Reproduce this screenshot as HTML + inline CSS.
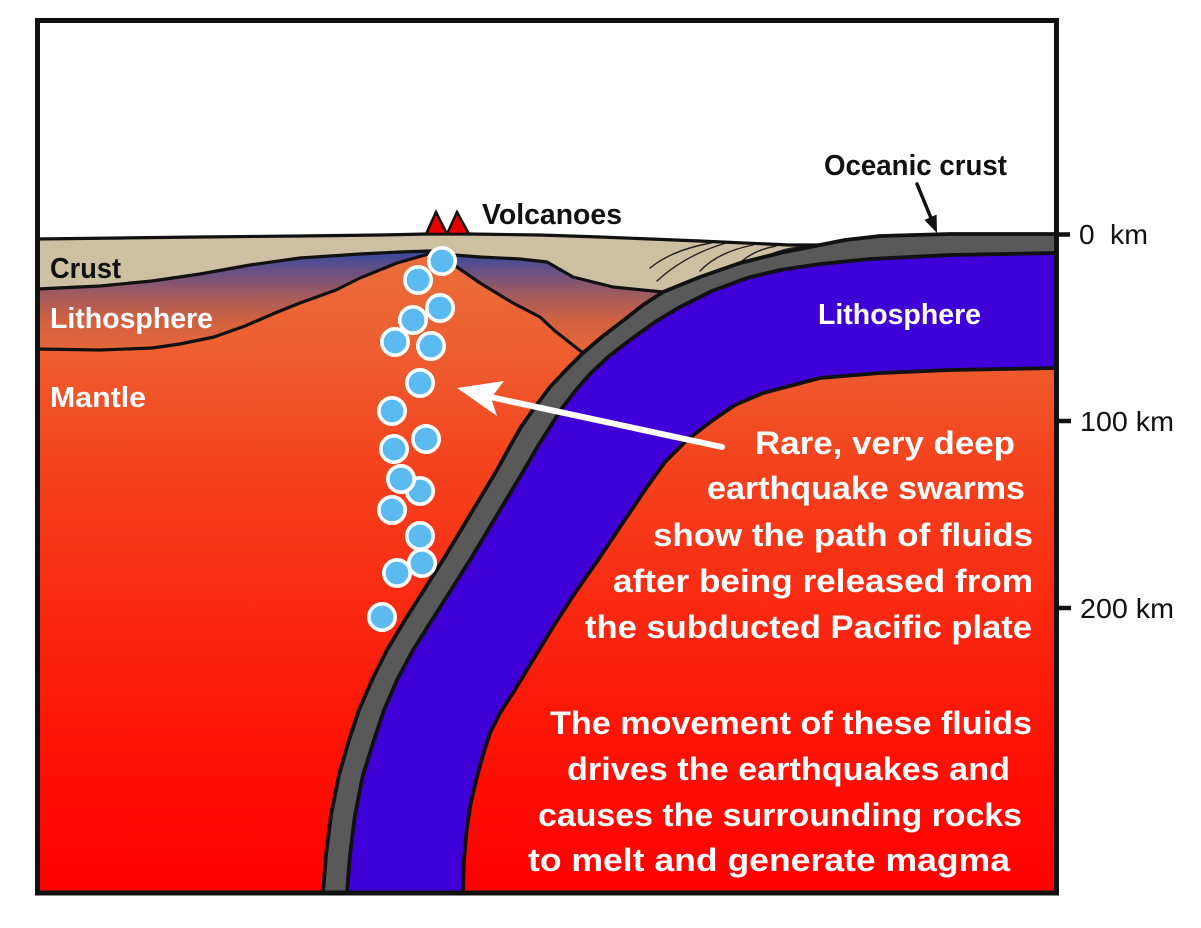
<!DOCTYPE html>
<html>
<head>
<meta charset="utf-8">
<style>
  html,body{margin:0;padding:0;background:#fff;}
  svg{display:block;}
  .b{font-family:"Liberation Sans",sans-serif;font-weight:bold;}
  .r{font-family:"Liberation Sans",sans-serif;font-weight:normal;}
</style>
</head>
<body>
<svg width="1201" height="928" viewBox="0 0 1201 928" xmlns="http://www.w3.org/2000/svg">
  <defs>
    <linearGradient id="mantle" gradientUnits="userSpaceOnUse" x1="0" y1="240" x2="0" y2="893">
      <stop offset="0" stop-color="#e9703c"/>
      <stop offset="0.17" stop-color="#ee5e31"/>
      <stop offset="0.32" stop-color="#f3461f"/>
      <stop offset="0.55" stop-color="#f92a12"/>
      <stop offset="0.78" stop-color="#fd1206"/>
      <stop offset="1" stop-color="#ff0000"/>
    </linearGradient>
    <linearGradient id="litho" gradientUnits="userSpaceOnUse" x1="0" y1="255" x2="0" y2="352">
      <stop offset="0" stop-color="#3f4a9c"/>
      <stop offset="0.37" stop-color="#9a5a64"/>
      <stop offset="0.68" stop-color="#d2613f"/>
      <stop offset="1" stop-color="#e8663a"/>
    </linearGradient>
  </defs>

  <rect x="0" y="0" width="1201" height="928" fill="#fff"/>

  <!-- ground / mantle -->
  <polygon fill="url(#mantle)" points="37,239 120,238 200,237 300,236 380,235 426,234 470,234 540,235 600,237 700,241 790,245 820,245 845,240 880,236 950,234 1056,234 1056,893 37,893"/>

  <!-- overriding lithosphere -->
  <polygon fill="url(#litho)" points="37,289 100,286 152,281 200,274 250,265 300,258 360,254 400,252 430,251 454,255 480,257 520,259 547,262 573,277 613,287 663,292 643,305 624,320 603,336 583,353 555,331 540,317 513,303 480,283 457,267 432,253 397,263 360,278 336,290 300,303 275,313 245,326 214,337 180,344 152,348 100,350 37,349"/>

  <!-- crust -->
  <polygon fill="#cdbfa2" points="37,239 120,238 200,237 300,236 380,235 426,234 470,234 540,235 600,237 700,241 790,245 820,245 780,253 740,263 700,277 663,292 613,287 573,277 547,262 520,259 480,257 454,255 430,251 400,252 360,254 300,258 250,265 200,274 152,281 100,286 37,289"/>

  <!-- hatch lines in crust -->
  <g fill="none" stroke="#222" stroke-width="1.4" stroke-linecap="round">
    <path d="M650,268 Q672,250 711,243"/>
    <path d="M657,281 Q685,255 726,243"/>
    <path d="M700,271 Q718,252 753,245"/>
    <path d="M742,261 Q755,250 776,246"/>
    <path d="M769,255 Q785,248 807,246"/>
  </g>

  <!-- slab: oceanic crust (gray) -->
  <polygon fill="#595959" points="1056,234 950,234 880,236 845,240 820,245 780,253 740,263 700,277 663,292 643,305 624,320 603,336 583,353 566,370 550,387 535,407 521,427 509,448 497,470 479,500 461,530 443,560 424,590 405,620 387,650 372,680 359,710 349,740 339,775 331,815 326,855 323,893 463,893 464,860 467,827 471,802 477,777 483,755 490,733 500,713 513,693 533,660 553,627 575,593 598,560 620,527 647,487 665,462 687,440 713,420 735,405 763,393 820,378 880,373 950,370 1056,368"/>
  <!-- slab: lithosphere (blue) -->
  <polygon fill="#3f00d8" points="1056,253 950,255 870,259 820,264 780,270 747,278 712,291 680,307 655,322 630,340 608,357 590,374 576,390 562,408 550,427 538,446 524,470 506,500 488,530 470,560 451,590 432,620 413,650 397,680 384,710 374,740 363,775 355,815 350,855 347,893 463,893 464,860 467,827 471,802 477,777 483,755 490,733 500,713 513,693 533,660 553,627 575,593 598,560 620,527 647,487 665,462 687,440 713,420 735,405 763,393 820,378 880,373 950,370 1056,368"/>

  <!-- outlines -->
  <g fill="none" stroke="#111" stroke-linejoin="round" stroke-linecap="round">
    <polyline stroke-width="3.2" points="37,239 120,238 200,237 300,236 380,235 426,234 470,234 540,235 600,237 700,241 790,245 820,245"/>
    <polyline stroke-width="3.2" points="37,289 100,286 152,281 200,274 250,265 300,258 360,254 400,252 430,251 454,255 480,257 520,259 547,262 573,277 613,287 663,292"/>
    <polyline stroke-width="3.2" points="37,349 100,350 152,348 180,344 214,337 245,326 275,313 300,303 336,290 360,278 397,263 432,253 457,267 480,283 513,303 540,317 555,331 583,353"/>
    <polyline stroke-width="3.8" points="1056,234 950,234 880,236 845,240 820,245 780,253 740,263 700,277 663,292 643,305 624,320 603,336 583,353 566,370 550,387 535,407 521,427 509,448 497,470 479,500 461,530 443,560 424,590 405,620 387,650 372,680 359,710 349,740 339,775 331,815 326,855 323,893"/>
    <polyline stroke-width="3.8" points="1056,253 950,255 870,259 820,264 780,270 747,278 712,291 680,307 655,322 630,340 608,357 590,374 576,390 562,408 550,427 538,446 524,470 506,500 488,530 470,560 451,590 432,620 413,650 397,680 384,710 374,740 363,775 355,815 350,855 347,893"/>
    <polyline stroke-width="3.8" points="463,893 464,860 467,827 471,802 477,777 483,755 490,733 500,713 513,693 533,660 553,627 575,593 598,560 620,527 647,487 665,462 687,440 713,420 735,405 763,393 820,378 880,373 950,370 1056,368"/>
  </g>

  <!-- volcanoes -->
  <g fill="#e60000" stroke="#111" stroke-width="2.5" stroke-linejoin="miter">
    <polygon points="426,234 436,212 447,234"/>
    <polygon points="447,234 457,212 469,234"/>
  </g>

  <!-- earthquake dots -->
  <g fill="#5bbaf0" stroke="#fff" stroke-width="3.6">
    <circle cx="442" cy="261" r="13.2"/>
    <circle cx="418" cy="280" r="13.2"/>
    <circle cx="440" cy="308" r="13.2"/>
    <circle cx="413" cy="320" r="13.2"/>
    <circle cx="395" cy="342" r="13.2"/>
    <circle cx="431" cy="346" r="13.2"/>
    <circle cx="420" cy="383" r="13.2"/>
    <circle cx="392" cy="411" r="13.2"/>
    <circle cx="426" cy="439" r="13.2"/>
    <circle cx="394" cy="449" r="13.2"/>
    <circle cx="420" cy="491" r="13.2"/>
    <circle cx="401" cy="479" r="13.2"/>
    <circle cx="392" cy="510" r="13.2"/>
    <circle cx="420" cy="536" r="13.2"/>
    <circle cx="397" cy="573" r="13.2"/>
    <circle cx="422" cy="563" r="13.2"/>
    <circle cx="382" cy="617" r="13.2"/>
  </g>

  <!-- white arrow -->
  <line x1="722" y1="447" x2="490" y2="397" stroke="#fff" stroke-width="6" stroke-linecap="round"/>
  <polygon fill="#fff" points="457,388 504,381 491,398 497,416"/>

  <!-- oceanic crust arrow -->
  <line x1="917" y1="184" x2="931" y2="218" stroke="#111" stroke-width="3.5" stroke-linecap="round"/>
  <polygon fill="#111" points="937,233 936.6,214.5 924.4,220"/>

  <!-- frame -->
  <rect x="37.5" y="20.5" width="1019" height="872.5" fill="none" stroke="#111" stroke-width="5"/>

  <!-- depth ticks -->
  <g stroke="#111" stroke-width="4.5">
    <line x1="1057" y1="234.5" x2="1070" y2="234.5"/>
    <line x1="1057" y1="421" x2="1071" y2="421"/>
    <line x1="1057" y1="608" x2="1071" y2="608"/>
  </g>
  <g class="r" font-size="28" fill="#111">
    <text x="1079" y="244"><tspan x="1079">0</tspan><tspan x="1110" textLength="38" lengthAdjust="spacingAndGlyphs">km</tspan></text>
    <text x="1080" y="431" textLength="94" lengthAdjust="spacingAndGlyphs">100 km</text>
    <text x="1080" y="618" textLength="94" lengthAdjust="spacingAndGlyphs">200 km</text>
  </g>

  <!-- black labels -->
  <g class="b" fill="#111">
    <text x="824" y="175" font-size="29" textLength="183" lengthAdjust="spacingAndGlyphs">Oceanic crust</text>
    <text x="482" y="224" font-size="29" textLength="140" lengthAdjust="spacingAndGlyphs">Volcanoes</text>
    <text x="50" y="278" font-size="29" textLength="71" lengthAdjust="spacingAndGlyphs">Crust</text>
  </g>

  <!-- white labels -->
  <g class="b" fill="#fff">
    <text x="50" y="328" font-size="29" textLength="163" lengthAdjust="spacingAndGlyphs">Lithosphere</text>
    <text x="50" y="407" font-size="29" textLength="96" lengthAdjust="spacingAndGlyphs">Mantle</text>
    <text x="818" y="324" font-size="29" textLength="163" lengthAdjust="spacingAndGlyphs">Lithosphere</text>

    <text x="755" y="454" font-size="32" textLength="260" lengthAdjust="spacingAndGlyphs">Rare, very deep</text>
    <text x="707" y="499" font-size="32" textLength="318" lengthAdjust="spacingAndGlyphs">earthquake swarms</text>
    <text x="653" y="546" font-size="32" textLength="380" lengthAdjust="spacingAndGlyphs">show the path of fluids</text>
    <text x="613" y="592" font-size="32" textLength="420" lengthAdjust="spacingAndGlyphs">after being released from</text>
    <text x="585" y="638" font-size="32" textLength="447" lengthAdjust="spacingAndGlyphs">the subducted Pacific plate</text>

    <text x="550" y="734" font-size="32" textLength="482" lengthAdjust="spacingAndGlyphs">The movement of these fluids</text>
    <text x="567" y="780" font-size="32" textLength="443" lengthAdjust="spacingAndGlyphs">drives the earthquakes and</text>
    <text x="538" y="826" font-size="32" textLength="484" lengthAdjust="spacingAndGlyphs">causes the surrounding rocks</text>
    <text x="528" y="871" font-size="32" textLength="482" lengthAdjust="spacingAndGlyphs">to melt and generate magma</text>
  </g>
</svg>
</body>
</html>
